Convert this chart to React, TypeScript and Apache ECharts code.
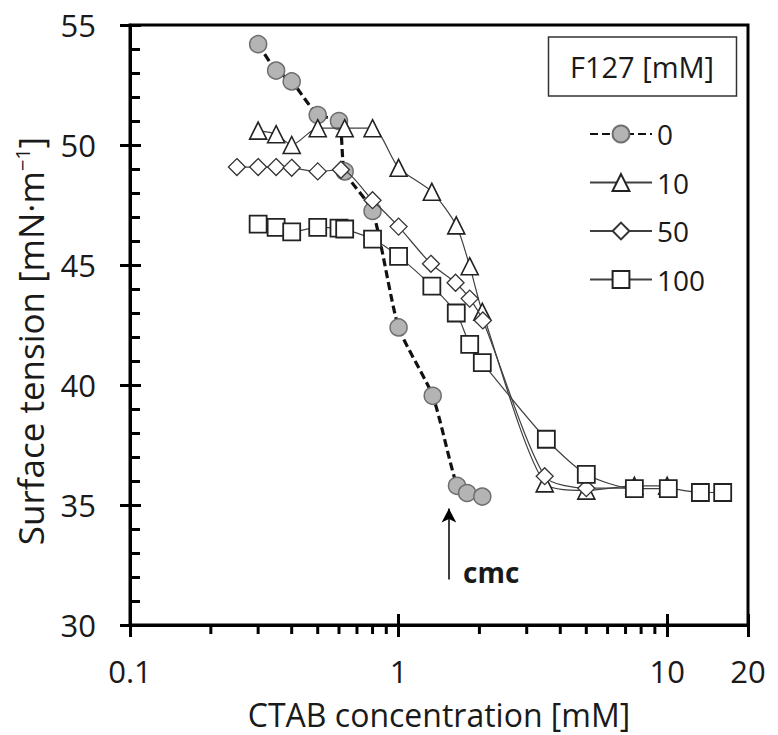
import React, { useEffect, useRef } from "react";
import * as echarts from "echarts";

// ---- data ----
const seriesNames = ["0", "10", "50", "100"];

const xF0 = [0.3, 0.35, 0.4, 0.5, 0.6, 0.63, 0.8, 1.0, 1.34, 1.65, 1.8, 2.05];
const yF0 = [54.2, 53.1, 52.65, 51.25, 51.0, 48.9, 47.25, 42.4, 39.55, 35.8, 35.5, 35.35];

const xF10 = [0.3, 0.35, 0.4, 0.5, 0.63, 0.8, 1.0, 1.33, 1.64, 1.84, 2.05, 3.5, 5.0, 7.55, 10.0];
const yF10 = [50.6, 50.45, 50.0, 50.7, 50.7, 50.7, 49.05, 48.05, 46.65, 44.95, 43.05, 35.9, 35.6, 35.8, 35.8];

const xF50 = [0.25, 0.3, 0.35, 0.4, 0.5, 0.61, 0.8, 1.0, 1.32, 1.63, 1.84, 2.06, 3.5, 5.0, 7.55];
const yF50 = [49.08, 49.08, 49.08, 49.05, 48.9, 48.97, 47.7, 46.6, 45.05, 44.26, 43.6, 42.69, 36.2, 35.7, 35.7];

const xF100 = [0.3, 0.35, 0.4, 0.5, 0.6, 0.63, 0.8, 1.0, 1.33, 1.64, 1.84, 2.05, 3.55, 5.0, 7.55, 10.1, 13.3, 16.1];
const yF100 = [46.7, 46.57, 46.38, 46.57, 46.54, 46.5, 46.08, 45.36, 44.12, 43.0, 41.69, 40.93, 37.74, 36.28, 35.68, 35.68, 35.52, 35.52];

const xMinorTicks = [0.2, 0.3, 0.4, 0.5, 0.6, 0.7, 0.8, 0.9, 2, 3, 4, 5, 6, 7, 8, 9];

const cmcX = 1.54;
const cmcArrow = [31.9, 34.85];

const X_MIN = 0.1;
const X_MAX = 20;
const Y_MIN = 30;
const Y_MAX = 55;
const Y_STEP = 5;

const FONT = "Open Sans";
const TXT = "#1a1a1a";

function pairs(xs: number[], ys: number[]) {
  return xs.map((x, i) => [x, ys[i]]);
}

export default function App() {
  const ref = useRef<HTMLDivElement>(null);
  useEffect(() => {
    if (!ref.current) return;
    const chart = echarts.init(ref.current, null, { renderer: "svg" });

    const lineThin = { color: "#404040", width: 1.2 };

    const option: any = {
      animation: false,
      backgroundColor: "#ffffff",
      textStyle: { fontFamily: FONT, color: TXT },
      grid: {
        left: 130,
        top: 25,
        right: 30,
        bottom: 109,
        show: true,
        borderColor: "#000",
        borderWidth: 3,
      },
      legend: {
        orient: "vertical",
        left: 584,
        top: 115,
        itemWidth: 62,
        itemHeight: 21,
        itemGap: 20.5,
        data: seriesNames,
        textStyle: { fontFamily: FONT, fontSize: 28, color: TXT, lineHeight: 28 },
      },
      xAxis: [
        {
          type: "log",
          min: X_MIN,
          max: X_MAX,
          logBase: 10,
          position: "bottom",
          axisLine: { show: true, onZero: false, lineStyle: { color: "#000", width: 3 } },
          axisTick: { show: true, inside: false, length: 12, lineStyle: { color: "#000", width: 3 } },
          axisLabel: { show: true, fontFamily: FONT, fontSize: 31, color: TXT, margin: 30 },
          splitLine: { show: false },
          minorTick: { show: false },
          name: "CTAB concentration [mM]",
          nameLocation: "middle",
          nameGap: 73,
          nameTextStyle: { fontFamily: FONT, fontSize: 32, color: TXT },
        },
        {
          type: "log",
          min: X_MIN,
          max: X_MAX,
          logBase: 10,
          position: "bottom",
          axisLine: { show: false },
          axisTick: { show: true, inside: true, length: 11, lineStyle: { color: "#000", width: 3 } },
          axisLabel: { show: false },
          splitLine: { show: false },
        },
      ],
      yAxis: [
        {
          type: "value",
          min: Y_MIN,
          max: Y_MAX,
          interval: Y_STEP,
          position: "left",
          axisLine: { show: true, onZero: false, lineStyle: { color: "#000", width: 3 } },
          axisTick: { show: true, inside: false, length: 10, lineStyle: { color: "#000", width: 3 } },
          axisLabel: { show: true, fontFamily: FONT, fontSize: 31, color: TXT, margin: 34 },
          splitLine: { show: false },
        },
        {
          type: "value",
          min: Y_MIN,
          max: Y_MAX,
          interval: Y_STEP,
          position: "left",
          axisLine: { show: false },
          axisTick: { show: true, inside: true, length: 11, lineStyle: { color: "#000", width: 3 } },
          minorTick: { show: true, splitNumber: 5, length: 10, lineStyle: { color: "#000", width: 3 } },
          axisLabel: { show: false },
          splitLine: { show: false },
        },
      ],
      series: [
        {
          type: "custom",
          silent: true,
          clip: false,
          xAxisIndex: 0,
          yAxisIndex: 0,
          data: xMinorTicks.map((v) => [v, Y_MIN]),
          renderItem: (params: any, api: any) => {
            const p = api.coord([api.value(0), api.value(1)]);
            return {
              type: "line",
              shape: { x1: p[0], y1: p[1], x2: p[0], y2: p[1] + 9 },
              style: { stroke: "#000", lineWidth: 3 },
            };
          },
        },
        {
          name: "0",
          type: "line",
          smooth: 0.2,
          data: pairs(xF0, yF0),
          symbol: "circle",
          symbolSize: 17,
          lineStyle: { color: "#111", width: 3.2, type: [8, 4] },
          itemStyle: { color: "#b4b4b4", borderColor: "#6e6e6e", borderWidth: 1.5 },
          z: 3,
          markLine: {
            silent: true,
            symbol: ["none", "arrow"],
            symbolSize: [11, 14],
            label: { show: false },
            lineStyle: { color: "#000", width: 1.5, type: "solid" },
            data: [[{ coord: [cmcX, cmcArrow[0]] }, { coord: [cmcX, cmcArrow[1]] }]],
          },
        },
        {
          name: "10",
          type: "line",
          smooth: 0.25,
          data: pairs(xF10, yF10),
          symbol: "triangle",
          symbolSize: 17,
          lineStyle: lineThin,
          itemStyle: { color: "#ffffff", borderColor: "#222", borderWidth: 1.6 },
          z: 4,
        },
        {
          name: "50",
          type: "line",
          smooth: 0.25,
          data: pairs(xF50, yF50),
          symbol: "diamond",
          symbolSize: 17,
          lineStyle: lineThin,
          itemStyle: { color: "#ffffff", borderColor: "#333", borderWidth: 1.3 },
          z: 5,
        },
        {
          name: "100",
          type: "line",
          smooth: 0.25,
          data: pairs(xF100, yF100),
          symbol: "rect",
          symbolSize: 17,
          lineStyle: lineThin,
          itemStyle: { color: "#ffffff", borderColor: "#222", borderWidth: 1.8 },
          z: 6,
        },
      ],
      graphic: [
        {
          type: "text",
          x: 30,
          y: 341,
          rotation: Math.PI / 2,
          style: {
            text: "Surface tension [mN·m{sup|−1}]",
            fontFamily: FONT,
            fontSize: 35,
            fill: TXT,
            align: "center",
            verticalAlign: "middle",
            rich: {
              sup: { fontFamily: FONT, fontSize: 20, fill: TXT, verticalAlign: "top" },
            },
          },
        },
        {
          type: "rect",
          shape: { x: 548.5, y: 37, width: 188, height: 59 },
          style: { fill: "#fff", stroke: "#333", lineWidth: 1.5 },
        },
        {
          type: "text",
          x: 642,
          y: 66.5,
          style: {
            text: "F127 [mM]",
            fontFamily: FONT,
            fontSize: 29,
            fill: TXT,
            align: "center",
            verticalAlign: "middle",
          },
        },
        {
          type: "text",
          x: 463,
          y: 572,
          style: {
            text: "cmc",
            fontFamily: FONT,
            fontSize: 28,
            fontWeight: "bold",
            fill: TXT,
            align: "left",
            verticalAlign: "middle",
          },
        },
      ],
    };

    chart.setOption(option);
    return () => chart.dispose();
  }, []);

  return (
    <div
      ref={ref}
      style={{ position: "absolute", left: 0, top: 0, width: 778, height: 735, background: "#fff" }}
    />
  );
}
